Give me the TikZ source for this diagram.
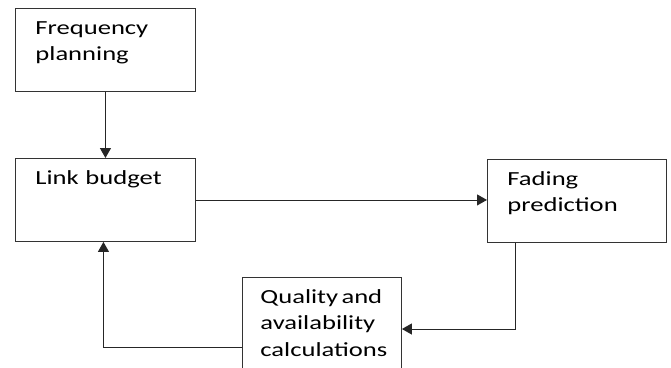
\documentclass[tikz,border=0pt]{standalone}
\usepackage{fontspec}
\setmainfont{Carlito}[FakeStretch=1.33]
\usetikzlibrary{arrows.meta, positioning}

\begin{document}
\begin{tikzpicture}[
    x=1pt, y=-1pt,
    blk/.style={rectangle, draw=black!80, line width=0.9pt, anchor=north west,
                text width=#1, align=left, inner xsep=20pt, inner ysep=0pt,
                text height=26pt, text depth=57pt,
                font=\fontsize{20}{26.5}\selectfont},
    arrow/.style={-{Triangle[length=10pt, width=11pt]}, line width=0.9pt, black!85}
  ]
    \clip (0,0) rectangle (671,367);
    \node[blk=140pt] (freq) at (15,8) {Frequency\\planning};
    \node[blk=140pt] (link) at (15,158) {Link budget};
    \node[blk=139pt] (fade) at (487,159) {Fading\\prediction};
    \node[blk=123pt, inner xsep=18pt, text depth=100pt] (qual) at (242,277)
        {Quality\,and\\availability\\calculations};

    \draw[arrow, line width=1.2pt] (freq.south) -- (link.north);
    \draw[arrow] (link.east) -- (link.east -| fade.west);
    \draw[arrow] ([xshift=-62pt]fade.south) |- ([yshift=-52pt]qual.north east);
    \draw[arrow] ([yshift=-70pt]qual.north west) -| ([xshift=-2pt]link.south);
\end{tikzpicture}
\end{document}
